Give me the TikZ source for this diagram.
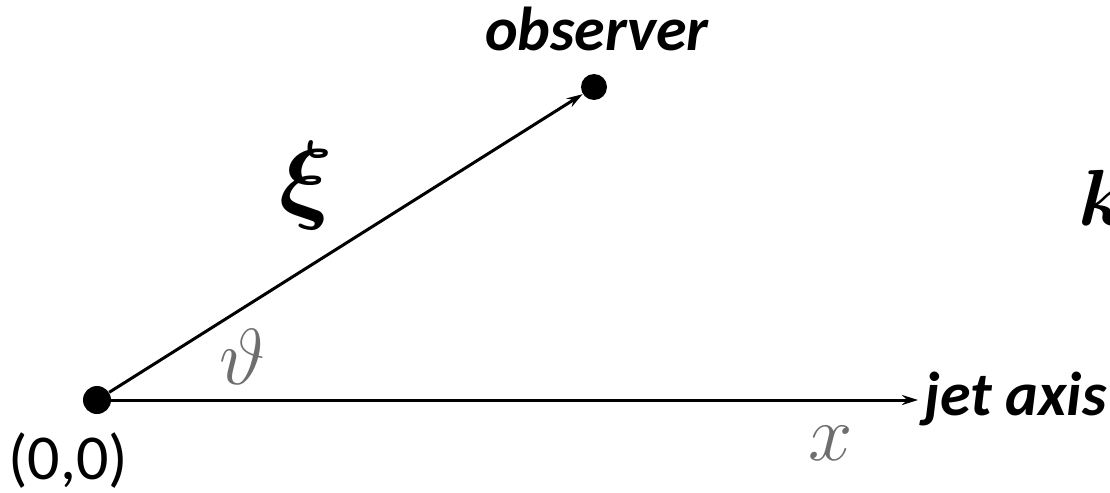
\documentclass[tikz,border=0pt]{standalone}
\usepackage{amsmath}
\usepackage{graphicx}
\usepackage{fontspec}
\setmainfont{Carlito}
\usetikzlibrary{arrows.meta}
\definecolor{symgray}{HTML}{6E6E6E}
\newcommand{\bigsym}[2][1.6]{\scalebox{#1}{$#2$}}
\begin{document}
\begin{tikzpicture}[x=0.5pt,y=-0.5pt,
  dot/.style={circle,fill=black,inner sep=0pt,minimum size=#1},
  vec/.style={line width=1.5pt,-{Stealth[length=8pt,width=5pt]}},
  lbl/.style={inner sep=0pt,font=\fontsize{31}{36}\selectfont\bfseries\itshape},
  sym/.style={inner sep=0pt,font=\Huge}]
\useasboundingbox (0,0) rectangle (1110,493);
\node[dot=14pt] (o) at (97,400) {};
\node[dot=13pt] (obs) at (594,87) {};
\coordinate (jet) at (918,400);
\draw[vec] (o) -- (obs);
\draw[vec] (o) -- (jet);
\node[lbl,anchor=base] (obstxt) at (597,50) {observer};
\node[lbl,anchor=base west] (jettxt) at (924,415) {jet axis};
\node[inner sep=0pt,anchor=base west,font=\fontsize{32}{38}\selectfont] (orig) at (8,479) {(0,0)};
\node[sym] (xi) at (306,186) {\bigsym[2]{\boldsymbol{\xi}}};
\node[sym,text=symgray] (th) at (242,357) {\bigsym{\vartheta}};
\node[sym,text=symgray] (xx) at (831,443) {\bigsym{x}};
\node[sym,anchor=base west] (k) at (1078,225) {\bigsym{\boldsymbol{k}}};
\end{tikzpicture}
\end{document}
